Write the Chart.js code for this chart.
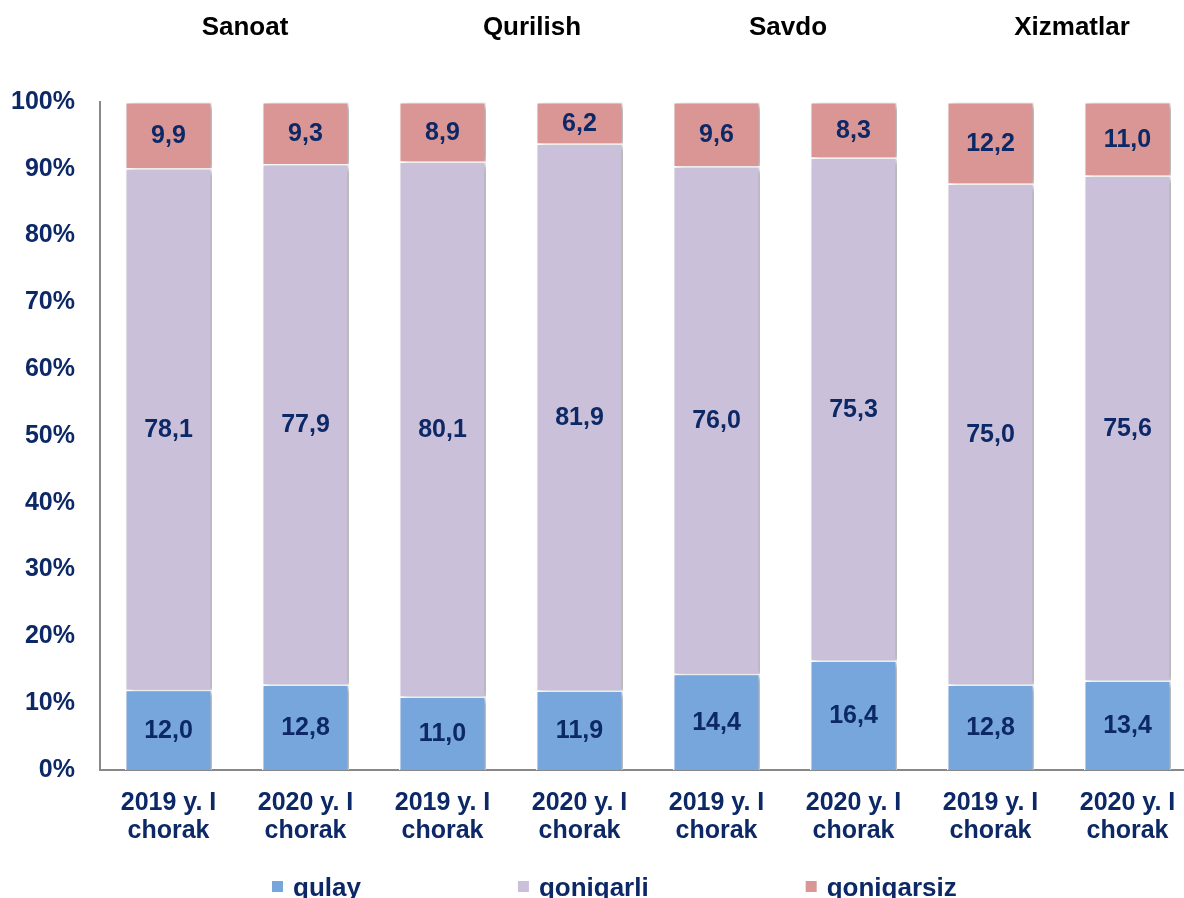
<!DOCTYPE html>
<html>
<head>
<meta charset="utf-8">
<script src="https://cdn.jsdelivr.net/npm/chart.js@4.4.1/dist/chart.umd.min.js"></script>
<style>
  html, body { margin: 0; padding: 0; background: #fff; overflow: hidden; }
  #wrap { width: 1200px; height: 905px; }
</style>
</head>
<body>
<div id="wrap"><canvas id="myChart" width="1200" height="905"></canvas></div>
<script>
// categories (two-line labels) and group titles
const labels = [
	['2019 y. I', 'chorak'], ['2020 y. I', 'chorak'],
	['2019 y. I', 'chorak'], ['2020 y. I', 'chorak'],
	['2019 y. I', 'chorak'], ['2020 y. I', 'chorak'],
	['2019 y. I', 'chorak'], ['2020 y. I', 'chorak']
];
const groups = ['Sanoat', 'Qurilish', 'Savdo', 'Xizmatlar'];

// series values (%)
const qulay = [12.0, 12.8, 11.0, 11.9, 14.4, 16.4, 12.8, 13.4];
const qoniqarli = [78.1, 77.9, 80.1, 81.9, 76.0, 75.3, 75.0, 75.6];
const qoniqarsiz = [9.9, 9.3, 8.9, 6.2, 9.6, 8.3, 12.2, 11.0];

const yTicks = [0, 10, 20, 30, 40, 50, 60, 70, 80, 90, 100];

const navy = '#0C2866';
const fontName = '"Liberation Sans", Arial, sans-serif';

// texto de valores en el centro de cada segmento
const valueLabels = {
	id: 'valueLabels',
	afterDatasetsDraw(chart) {
		const ctx = chart.ctx;
		ctx.save();
		ctx.font = 'bold 25px ' + fontName;
		ctx.fillStyle = navy;
		ctx.textAlign = 'center';
		ctx.textBaseline = 'middle';
		chart.data.datasets.forEach((ds, i) => {
			chart.getDatasetMeta(i).data.forEach((bar, j) => {
				const p = bar.getProps(['x', 'y', 'base'], true);
				ctx.fillText(ds.data[j].toFixed(1).replace('.', ','), p.x, (p.y + p.base) / 2 + 1);
			});
		});
		ctx.restore();
	}
};

// sombra de las barras
const barShadow = {
	id: 'barShadow',
	beforeDatasetsDraw(chart) {
		const ctx = chart.ctx;
		ctx.save();
		ctx.shadowColor = 'rgba(0,0,0,0.35)';
		ctx.shadowBlur = 6;
		ctx.shadowOffsetX = 4;
		ctx.shadowOffsetY = 2;
	},
	afterDatasetsDraw(chart) {
		chart.ctx.restore();
	}
};

// títulos de grupo arriba
const groupTitles = {
	id: 'groupTitles',
	afterDraw(chart) {
		const ctx = chart.ctx;
		const x = chart.scales.x;
		const shift = [8, 21, 3, 13];
		ctx.save();
		ctx.font = 'bold 26px ' + fontName;
		ctx.fillStyle = '#000';
		ctx.textAlign = 'center';
		ctx.textBaseline = 'middle';
		groups.forEach((g, i) => {
			const cx = (x.getPixelForValue(i * 2) + x.getPixelForValue(i * 2 + 1)) / 2 + shift[i];
			ctx.fillText(g, cx, 28);
		});
		ctx.restore();
	}
};

// leyenda abajo (recortada por el borde como en el original)
const bottomLegend = {
	id: 'bottomLegend',
	afterDraw(chart) {
		const ctx = chart.ctx;
		ctx.save();
		ctx.font = 'bold 26px ' + fontName;
		ctx.textBaseline = 'alphabetic';
		let x = 272;
		chart.data.datasets.forEach(ds => {
			ctx.fillStyle = ds.backgroundColor;
			ctx.fillRect(x, 881, 11, 11);
			ctx.fillStyle = navy;
			ctx.fillText(ds.label, x + 21, 896);
			x += 21 + ctx.measureText(ds.label).width + 157;
		});
		ctx.restore();
	}
};

const config = {
	type: 'bar',
	data: {
		labels: labels,
		datasets: [
			{ label: 'qulay', data: qulay, backgroundColor: '#77A6DD' },
			{ label: 'qoniqarli', data: qoniqarli, backgroundColor: '#CBC0DA' },
			{ label: 'qoniqarsiz', data: qoniqarsiz, backgroundColor: '#DA9694' }
		].map(d => Object.assign(d, {
			borderColor: '#fff',
			borderWidth: 1.5,
			categoryPercentage: 1,
			barPercentage: 0.635
		}))
	},
	options: {
		responsive: false,
		animation: false,
		layout: { padding: { top: 102, left: 10, right: 4, bottom: 41 } },
		plugins: {
			tooltip: { enabled: false },
			title: { display: false },
			legend: { display: false }
		},
		scales: {
			x: {
				stacked: true,
				grid: { display: false, drawTicks: false },
				border: { color: '#888', width: 2 },
				ticks: {
					color: navy,
					padding: 19,
					maxRotation: 0,
					font: { family: fontName, size: 25, weight: 'bold', lineHeight: 1.12 }
				}
			},
			y: {
				stacked: true,
				min: 0,
				max: 100,
				afterBuildTicks: axis => { axis.ticks = yTicks.map(v => ({ value: v })); },
				afterFit: axis => { axis.width = 90; },
				grid: { display: false, drawTicks: false },
				border: { color: '#888', width: 2 },
				ticks: {
					color: navy,
					padding: 25,
					callback: v => v + '%',
					font: { family: fontName, size: 25, weight: 'bold' }
				}
			}
		}
	},
	plugins: [barShadow, valueLabels, groupTitles, bottomLegend]
};

const ctx = document.getElementById('myChart').getContext('2d');
const chart = new Chart(ctx, config);
</script>
</body>
</html>
